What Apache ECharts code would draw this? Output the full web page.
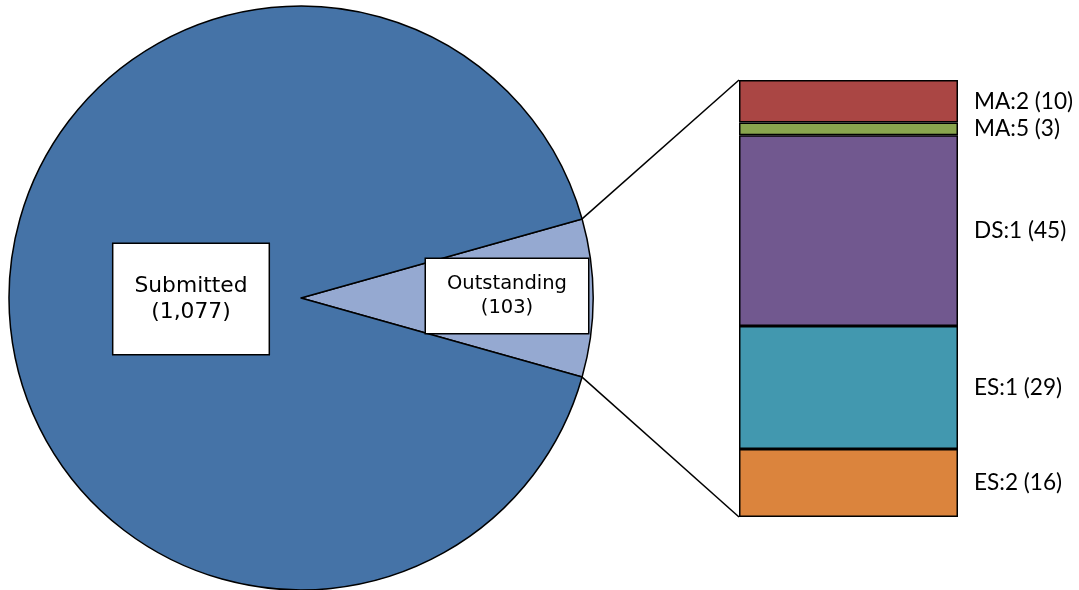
<!DOCTYPE html>
<html><head><meta charset="utf-8">
<script src="https://cdn.jsdelivr.net/npm/echarts@6/dist/echarts.min.js"></script>
<style>html,body{margin:0;padding:0;background:#fff}#c{width:1079px;height:590px}</style>
</head><body><div id="c"></div>
<script>
// Data
const pieNames = ['Outstanding', 'Submitted'];
const pieValues = [103, 1077];
const barNames = ['ES:2', 'ES:1', 'DS:1', 'MA:5', 'MA:2'];
const barValues = [16, 29, 45, 3, 10];
const barColors = ['#DB843D', '#4298AF', '#71588F', '#89A54E', '#AA4644'];
const pieColors = ['#95A9D1', '#4573A7'];

const total = pieValues[0] + pieValues[1];
const halfAngle = 360 * pieValues[0] / total / 2;
const cx = 301, cy = 298, R = 292;
const fmt = n => n.toLocaleString('en-US');

const chart = echarts.init(document.getElementById('c'), null, {renderer: 'canvas'});
const barSeries = barNames.map((n, i) => ({
  type: 'bar', name: n, stack: 's', barWidth: '100%',
  data: [barValues[i]],
  itemStyle: {color: barColors[i], borderColor: '#000', borderWidth: 1.5},
  label: {show: true, position: 'right', distance: 16, formatter: n + ' (' + barValues[i] + ')',
    color: '#000', fontFamily: 'Lato', fontSize: 22.6},
  emphasis: {disabled: true}, animation: false
}));

chart.setOption({
  animation: false,
  grid: {left: 739, top: 80, width: 219, height: 437},
  xAxis: {type: 'category', data: ['Outstanding'], show: false},
  yAxis: {type: 'value', min: 0, max: pieValues[0], show: false},
  series: [{
    type: 'pie', center: [cx, cy], radius: R, startAngle: halfAngle, clockwise: true,
    data: pieNames.map((n, i) => ({
      name: n, value: pieValues[i], itemStyle: {color: pieColors[i]},
      label: i === 0 ? {padding: [13, 21], lineHeight: 24, fontSize: 19.5}
                     : {padding: [29, 21], lineHeight: 26, fontSize: 21.8}
    })),
    itemStyle: {borderColor: '#000', borderWidth: 1.5},
    label: {show: true, position: 'inside', color: '#000', fontFamily: 'DejaVu Sans',
      backgroundColor: '#fff', borderColor: '#000', borderWidth: 1.5,
      formatter: p => p.name + '\n(' + fmt(p.value) + ')'},
    labelLayout: p => p.dataIndex === 0 ? {dx: 28.5, dy: -1} : {dx: 19.5, dy: 0.5},
    emphasis: {disabled: true}, silent: true
  }].concat(barSeries)
});

// connector lines from pie slice edges to bar corners
const rad = halfAngle * Math.PI / 180;
const px = cx + R * Math.cos(rad);
const pyTop = cy - R * Math.sin(rad), pyBot = cy + R * Math.sin(rad);
const topPt = chart.convertToPixel({gridIndex: 0}, ['Outstanding', pieValues[0]]);
const botPt = chart.convertToPixel({gridIndex: 0}, ['Outstanding', 0]);
const barLeft = topPt[0] - 219 / 2;
chart.setOption({graphic: [
  {type: 'line', shape: {x1: px, y1: pyTop, x2: barLeft, y2: topPt[1]}, style: {stroke: '#000', lineWidth: 1.5}, z: 10},
  {type: 'line', shape: {x1: px, y1: pyBot, x2: barLeft, y2: botPt[1]}, style: {stroke: '#000', lineWidth: 1.5}, z: 10}
]});
</script></body></html>
